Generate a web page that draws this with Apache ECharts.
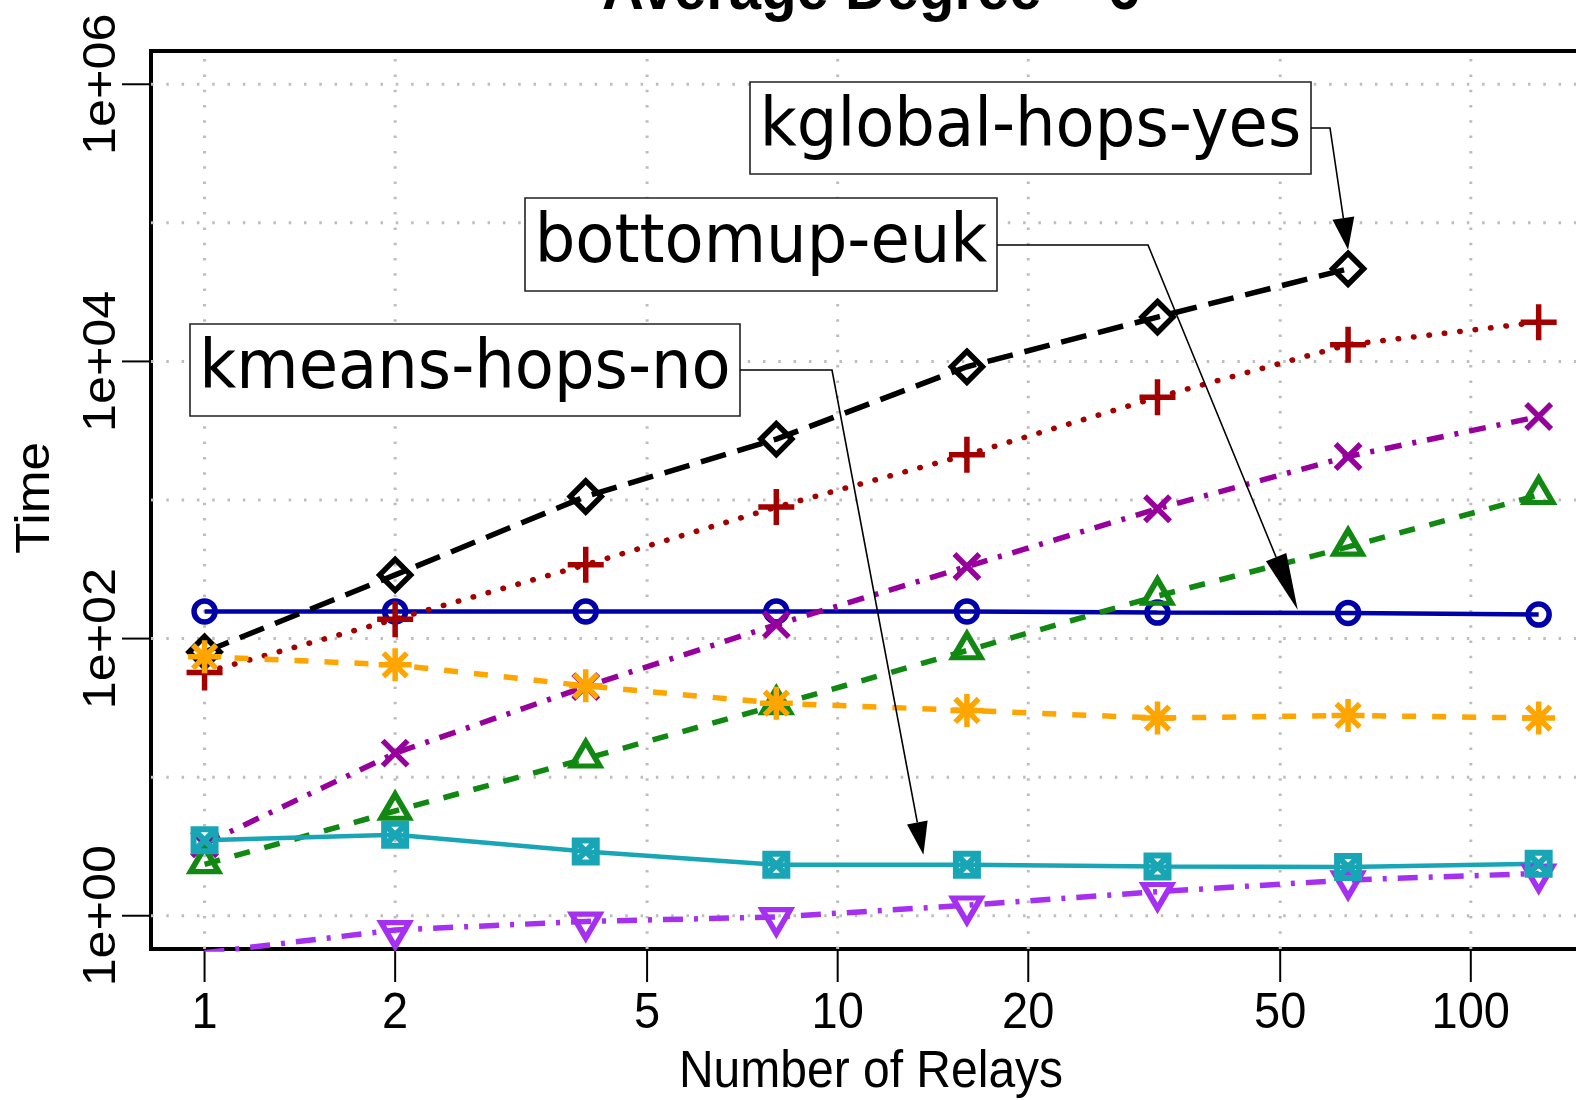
<!DOCTYPE html>
<html>
<head>
<meta charset="utf-8">
<title>Average Degree = 6</title>
<script src="https://cdn.jsdelivr.net/npm/echarts@6/dist/echarts.min.js"></script>
<style>
  html, body { margin: 0; padding: 0; background: #fff; }
  #chart { width: 1576px; height: 1100px; }
</style>
</head>
<body>
<div id="chart"></div>
<script>
// x: number of relays, y: time (both log scale)
const relays = [1, 2, 4, 8, 16, 32, 64, 128];

const kglobalHopsYes = [80, 288, 1060, 2750, 9150, 20900, 46600];
const bottomupEuk = [157, 157, 157, 157, 157, 154, 153, 149];
const kmeansHopsNo = [3.5, 3.84, 2.91, 2.33, 2.33, 2.27, 2.25, 2.37];
const redPlus = [57, 138, 341, 889, 2120, 5520, 13200, 19200];
const purpleCross = [3.3, 14.9, 45, 126, 331, 864, 2060, 4000];
const greenTriangle = [2.35, 5.7, 13.6, 33, 82, 203, 459, 1084];
const orangeStar = [74, 64.7, 45.6, 34.2, 30.3, 26.7, 27.9, 26.7];
const violetTriangle = [0.54, 0.79, 0.91, 0.98, 1.19, 1.49, 1.81, 2.02];

const xTicks = [1, 2, 5, 10, 20, 50, 100];
const xTickLabels = ['1', '2', '5', '10', '20', '50', '100'];
const yGridValues = [1, 10, 100, 1e3, 1e4, 1e5, 1e6];
const yTicks = [1, 100, 1e4, 1e6];
const yTickLabels = ['1e+00', '1e+02', '1e+04', '1e+06'];

// annotation text and the data point each arrow points at
const noteTexts = ['kglobal-hops-yes', 'bottomup-euk', 'kmeans-hops-no'];
const noteTips = [[64, 64000], [53.3, 161], [13.66, 2.75]];

// R style plot region: ylim 1..1e6, xlim 1..128, each widened by 4%
const X_MIN = 0.823, X_MAX = 155.4;
const Y_MIN = Math.pow(10, -0.24), Y_MAX = Math.pow(10, 6.24);
const AXIS_FONT = '"Liberation Sans", Arial, sans-serif';
const NOTE_FONT = '"DejaVu Sans", sans-serif';
const GRID_COLOR = '#bdbdbd';
const STRETCH = 1.07; // the original image is a bit taller than wide

const SYM_PLUS = 'path://M5,0L5,10M0,5L10,5';
const SYM_CROSS = 'path://M0,0L10,10M10,0L0,10';
const SYM_STAR = 'path://M5,0L5,10M0,5L10,5M1.46,1.46L8.54,8.54M8.54,1.46L1.46,8.54';
const SYM_BOXX = 'path://M0,0L10,0L10,10L0,10ZM0,0L10,10M10,0L0,10';
const SYM_UP = 'path://M5,0L10,8.66L0,8.66Z';
const SYM_DOWN = 'path://M0,0L10,0L5,8.66Z';

function lineSeries(name, values, color, width, dash, symbol, size, extra) {
  return Object.assign({
    name: name,
    type: 'line',
    data: values.map((v, i) => [relays[i], v]),
    symbol: symbol,
    symbolSize: size,
    lineStyle: { color: color, width: width, type: dash },
    itemStyle: { color: 'rgba(0,0,0,0)', borderColor: color, borderWidth: 5.5 },
    emphasis: { disabled: true },
    animation: false
  }, extra || {});
}

const chart = echarts.init(document.getElementById('chart'));

chart.setOption({
  animation: false,
  backgroundColor: '#fff',
  grid: {
    left: 151, top: 51, width: 1441, height: 898,
    show: true, borderColor: '#000', borderWidth: 4,
    backgroundColor: 'transparent',
    outerBoundsMode: 'none'
  },
  xAxis: { type: 'log', logBase: 10, min: X_MIN, max: X_MAX, show: false },
  yAxis: { type: 'log', logBase: 10, min: Y_MIN, max: Y_MAX, show: false },
  series: [
    // vertical grid lines, ticks and labels of the x axis
    {
      type: 'custom', name: 'x-axis', silent: true, z: 1,
      data: xTicks.map(v => [v, Y_MIN]),
      renderItem: function (params, api) {
        const v = api.value(0);
        const b = api.coord([v, Y_MIN]);
        const t = api.coord([v, Y_MAX]);
        return {
          type: 'group',
          children: [
            { type: 'line', shape: { x1: b[0], y1: b[1], x2: t[0], y2: t[1] },
              style: { stroke: GRID_COLOR, lineWidth: 3, lineDash: [2.5, 12.8] } },
            { type: 'line', shape: { x1: b[0], y1: b[1], x2: b[0], y2: b[1] + 33 },
              style: { stroke: '#000', lineWidth: 2 } },
            { type: 'text', x: b[0], y: b[1] + 65, scaleY: STRETCH,
              style: { text: xTickLabels[params.dataIndex], fontSize: 47, fontFamily: AXIS_FONT,
                       fill: '#000', align: 'center', verticalAlign: 'middle' } }
          ]
        };
      }
    },
    // horizontal grid lines every decade
    {
      type: 'custom', name: 'y-grid', silent: true, z: 1,
      data: yGridValues.map(v => [X_MIN, v]),
      renderItem: function (params, api) {
        const v = api.value(1);
        const l = api.coord([X_MIN, v]);
        const r = api.coord([X_MAX, v]);
        return { type: 'line', shape: { x1: l[0], y1: l[1], x2: r[0], y2: r[1] },
                 style: { stroke: GRID_COLOR, lineWidth: 3, lineDash: [2.5, 12.8] } };
      }
    },
    // y ticks and rotated labels every second decade
    {
      type: 'custom', name: 'y-axis', silent: true, z: 1,
      data: yTicks.map(v => [X_MIN, v]),
      renderItem: function (params, api) {
        const p = api.coord([X_MIN, api.value(1)]);
        return {
          type: 'group',
          children: [
            { type: 'line', shape: { x1: p[0] - 29, y1: p[1], x2: p[0], y2: p[1] },
              style: { stroke: '#000', lineWidth: 2 } },
            { type: 'text', x: p[0] - 49, y: p[1], rotation: Math.PI / 2, scaleX: STRETCH,
              style: { text: yTickLabels[params.dataIndex], fontSize: 47, fontFamily: AXIS_FONT,
                       fill: '#000', align: 'center', verticalAlign: 'middle' } }
          ]
        };
      }
    },
    lineSeries('bottomup-euk', bottomupEuk, '#0000a8', 4.5, 'solid', 'circle', 21),
    lineSeries('kglobal-hops-yes', kglobalHopsYes, '#000000', 5.5, [26, 12], 'diamond', 31),
    lineSeries('plus', redPlus, '#a30000', 5.5, [0.5, 15], SYM_PLUS, 36,
               { lineStyle: { color: '#a30000', width: 5.5, type: [0.5, 15], cap: 'round' } }),
    lineSeries('cross', purpleCross, '#98009e', 5.5, [17, 11, 4, 11], SYM_CROSS, 25),
    lineSeries('triangle', greenTriangle, '#118811', 5.5, [16, 15], SYM_UP, [28, 24],
               { symbolOffset: [0, -4.7] }),
    lineSeries('asterisk', orangeStar, '#ffa500', 5.5, [14, 16], SYM_STAR, 33),
    lineSeries('triangle-down', violetTriangle, '#a530f0', 5.5, [20, 11, 4, 11], SYM_DOWN, [28, 24],
               { symbolOffset: [0, 4.7] }),
    lineSeries('kmeans-hops-no', kmeansHopsNo, '#18a6b6', 4.5, 'solid', SYM_BOXX, 22,
               { itemStyle: { color: 'rgba(0,0,0,0)', borderColor: '#18a6b6', borderWidth: 6 } })
  ]
});

// boxes, leader lines and arrow heads (pixel layout)
const noteLayout = [
  { box: [750, 82, 561, 92], elbow: [1330, 128], head: [32, 11] },
  { box: [525, 198, 472, 93], elbow: [1148, 245], head: [57, 11] },
  { box: [190, 324, 550, 92], elbow: [832, 370], head: [33, 10.5] }
];

const elements = [
  { type: 'text', x: 871, y: -8, z: 100, scaleY: STRETCH,
    style: { text: 'Average Degree = 6', fontSize: 58, fontWeight: 'bold', fontFamily: AXIS_FONT,
             fill: '#000', align: 'center', verticalAlign: 'middle' } },
  { type: 'text', x: 871, y: 1073, z: 100, scaleY: STRETCH,
    style: { text: 'Number of Relays', fontSize: 48, fontFamily: AXIS_FONT,
             fill: '#000', align: 'center', verticalAlign: 'middle' } },
  { type: 'text', x: 36, y: 498, rotation: Math.PI / 2, scaleX: STRETCH, z: 100,
    style: { text: 'Time', fontSize: 48, fontFamily: AXIS_FONT,
             fill: '#000', align: 'center', verticalAlign: 'middle' } }
];

noteTexts.forEach(function (text, i) {
  const lay = noteLayout[i];
  const [bx, by, bw, bh] = lay.box;
  const tip = chart.convertToPixel({ gridIndex: 0 }, noteTips[i]);
  const e = lay.elbow;
  const dx = tip[0] - e[0], dy = tip[1] - e[1];
  const len = Math.sqrt(dx * dx + dy * dy);
  const ux = dx / len, uy = dy / len;
  const L = lay.head[0], W = lay.head[1];
  const base = [tip[0] - ux * L, tip[1] - uy * L];
  elements.push(
    { type: 'rect', z: 100, shape: { x: bx, y: by, width: bw, height: bh },
      style: { fill: '#fff', stroke: '#222', lineWidth: 1.6 } },
    { type: 'text', z: 101, x: bx + bw / 2, y: by + bh / 2, scaleY: STRETCH,
      style: { text: text, fontSize: 64, fontFamily: NOTE_FONT, fill: '#000',
               align: 'center', verticalAlign: 'middle' } },
    { type: 'polyline', z: 100,
      shape: { points: [[bx + bw, e[1]], e, base] },
      style: { stroke: '#000', lineWidth: 1.6, fill: null } },
    { type: 'polygon', z: 100,
      shape: { points: [tip, [base[0] - uy * W, base[1] + ux * W], [base[0] + uy * W, base[1] - ux * W]] },
      style: { fill: '#000', stroke: null } }
  );
});

chart.setOption({ graphic: { elements: elements } });
</script>
</body>
</html>
